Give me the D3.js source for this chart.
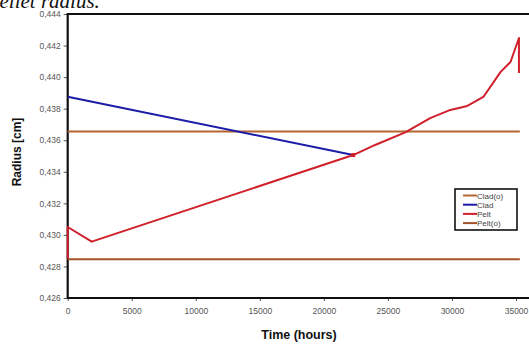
<!DOCTYPE html>
<html>
<head>
<meta charset="utf-8">
<script src="https://cdn.jsdelivr.net/npm/d3@7"></script>
<style>
  body { margin: 0; background: #fff; }
  svg { display: block; }
</style>
</head>
<body>
<div id="chart"></div>
<script>
// DATA
const xTicks = [0, 5000, 10000, 15000, 20000, 25000, 30000, 35000];
const yTicks = [0.426, 0.428, 0.430, 0.432, 0.434, 0.436, 0.438, 0.440, 0.442, 0.444];

const cladOHours = [0, 35300];
const cladORadius = [0.43655, 0.43655];

const cladHours = [0, 22290];
const cladRadius = [0.43876, 0.43506];

const peltHours = [0, 0, 1875, 22290, 24000, 26350, 28300, 29870, 31200, 32450, 33800, 34570, 35230, 35230];
const peltRadius = [0.4285, 0.4305, 0.42957, 0.43506, 0.4357, 0.4365, 0.4374, 0.43792, 0.43817, 0.43874, 0.44033, 0.44096, 0.44248, 0.44026];

const peltOHours = [0, 35300];
const peltORadius = [0.42845, 0.42845];

const seriesNames = ['Clad(o)', 'Clad', 'Pelt', 'Pelt(o)'];
const seriesColors = ['#b5652e', '#1c1ca8', '#d0202c', '#a4522a'];

// SETUP
const width = 529;
const height = 344;

const svg = d3.select('#chart')
  .append('svg')
  .attr('width', width)
  .attr('height', height);

const x = d3.scaleLinear().domain([0, 35000]).range([67.7, 516]);
const y = d3.scaleLinear().domain([0.426, 0.444]).range([298, 14]);

const locale = d3.formatLocale({ decimal: ',', thousands: '', grouping: [3], currency: ['', ''] });
const yFmt = locale.format('.3f');

// caption text cut by the crop
svg.append('text')
  .attr('x', -11)
  .attr('y', 8)
  .style('font-family', '"Liberation Serif", serif')
  .style('font-style', 'italic')
  .style('font-size', '21px')
  .attr('fill', '#111')
  .text('pellet radius.');

// AXES
const yAxis = svg.append('g')
  .attr('transform', `translate(${x(0)},0)`)
  .call(d3.axisLeft(y).tickValues(yTicks).tickFormat(yFmt).tickSize(4).tickSizeOuter(0));
yAxis.select('.domain').remove();
yAxis.selectAll('line').attr('stroke', '#555');
yAxis.selectAll('text')
  .attr('fill', '#555')
  .style('font-family', '"Liberation Sans", Arial, sans-serif')
  .style('font-size', '8.5px');

const xAxis = svg.append('g')
  .attr('transform', `translate(0,${y(0.426)})`)
  .call(d3.axisBottom(x).tickValues(xTicks).tickFormat(d3.format('d')).tickSize(3).tickSizeOuter(0));
xAxis.select('.domain').remove();
xAxis.selectAll('line').attr('stroke', '#555');
xAxis.selectAll('text')
  .attr('fill', '#555')
  .attr('dy', '1.15em')
  .style('font-family', '"Liberation Sans", Arial, sans-serif')
  .style('font-size', '8.5px');

// FRAME (right edge runs off the picture)
svg.append('path')
  .attr('d', `M${width + 5},${y(0.444)} H${x(0)} V${y(0.426)} H${width + 5}`)
  .attr('fill', 'none')
  .attr('stroke', '#111')
  .attr('stroke-width', 2.2);

// LINES
const line = d3.line().x(d => x(d[0])).y(d => y(d[1])).curve(d3.curveLinear);
const series = [
  d3.zip(cladOHours, cladORadius),
  d3.zip(cladHours, cladRadius),
  d3.zip(peltHours, peltRadius),
  d3.zip(peltOHours, peltORadius)
];

series.forEach((pts, i) => {
  svg.append('path')
    .datum(pts)
    .attr('d', line)
    .attr('fill', 'none')
    .attr('stroke', seriesColors[i])
    .attr('stroke-width', 2)
    .attr('stroke-linejoin', 'round');
});

// red marker where clad meets pellet
svg.append('rect')
  .attr('x', x(cladHours[1]) - 2)
  .attr('y', y(cladRadius[1]) - 2)
  .attr('width', 4)
  .attr('height', 4)
  .attr('fill', seriesColors[2]);

// AXIS TITLES
svg.append('text')
  .attr('transform', `translate(21,152) rotate(-90)`)
  .attr('text-anchor', 'middle')
  .style('font-family', '"Liberation Sans", Arial, sans-serif')
  .style('font-weight', 'bold')
  .style('font-size', '12px')
  .attr('fill', '#111')
  .text('Radius [cm]');

svg.append('text')
  .attr('x', 299)
  .attr('y', 339)
  .attr('text-anchor', 'middle')
  .style('font-family', '"Liberation Sans", Arial, sans-serif')
  .style('font-weight', 'bold')
  .style('font-size', '12.5px')
  .attr('fill', '#111')
  .text('Time (hours)');

// LEGEND
const legend = svg.append('g').attr('transform', 'translate(455,189)');
legend.append('rect')
  .attr('width', 62)
  .attr('height', 41)
  .attr('fill', '#fff')
  .attr('stroke', '#111')
  .attr('stroke-width', 1.6);

seriesNames.forEach((name, i) => {
  const ly = 6.5 + i * 9.2;
  legend.append('line')
    .attr('x1', 8).attr('x2', 22)
    .attr('y1', ly).attr('y2', ly)
    .attr('stroke', seriesColors[i])
    .attr('stroke-width', 2);
  legend.append('text')
    .attr('x', 22)
    .attr('y', ly + 3)
    .style('font-family', '"Liberation Sans", Arial, sans-serif')
    .style('font-size', '8px')
    .attr('fill', '#444')
    .text(name);
});
</script>
</body>
</html>
